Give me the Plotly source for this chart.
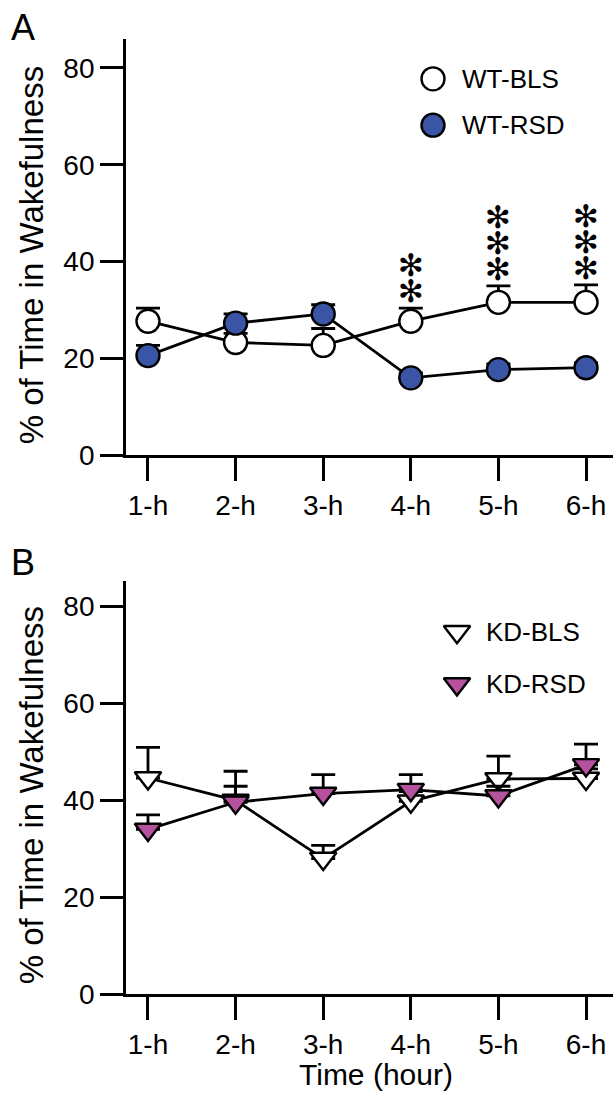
import plotly.graph_objects as go

W, H = 613, 1109

hours = ["1-h", "2-h", "3-h", "4-h", "5-h", "6-h"]
wt_bls = [27.7, 23.3, 22.7, 27.7, 31.6, 31.6]
wt_bls_err = [2.7, 1.9, 3.5, 2.7, 3.4, 3.6]
wt_rsd = [20.6, 27.3, 29.2, 16.0, 17.7, 18.1]
wt_rsd_err = [2.1, 1.9, 1.9, 1.0, 1.2, 1.0]
kd_bls = [44.6, 40.0, 28.0, 39.8, 44.4, 44.5]
kd_bls_err = [6.3, 6.0, 2.7, 2.0, 4.7, 2.0]
kd_rsd = [34.0, 39.6, 41.4, 42.2, 40.9, 47.3]
kd_rsd_err = [3.0, 3.3, 3.9, 3.1, 2.0, 4.3]
star_counts = [0, 0, 0, 2, 3, 3]
yticks = [0, 20, 40, 60, 80]

FONT = "Liberation Sans, Arial, sans-serif"
BLUE = "#3A55A5"
MAGENTA = "#B5519D"


def px_x(p):
    return p / W


def px_y(p):
    return 1 - p / H


fig = go.Figure()


def add_series(vals, errs, symbol, fill, xa, ya, size):
    fig.add_trace(go.Scatter(
        x=hours, y=vals, mode="lines+markers", xaxis=xa, yaxis=ya,
        line=dict(color="black", width=2.8),
        marker=dict(symbol=symbol, size=size, color=fill,
                    line=dict(color="black", width=2.4)),
        error_y=dict(type="data", array=errs, arrayminus=[0] * len(errs),
                     symmetric=False, color="black", thickness=2.8, width=12),
        showlegend=False, cliponaxis=False,
    ))


add_series(wt_bls, wt_bls_err, "circle", "white", "x", "y", 23)
add_series(wt_rsd, wt_rsd_err, "circle", BLUE, "x", "y", 23)
add_series(kd_bls, kd_bls_err, "triangle-down", "white", "x2", "y2", 23)
add_series(kd_rsd, kd_rsd_err, "triangle-down", MAGENTA, "x2", "y2", 23)

annotations = []
# significance stars above WT-BLS error bars
for i, n in enumerate(star_counts):
    top = wt_bls[i] + wt_bls_err[i]
    for k in range(n):
        annotations.append(dict(
            x=hours[i], y=top + 4.6 + 5.3 * k, xref="x", yref="y",
            text="\u273b", showarrow=False, yshift=-5,
            font=dict(family="DejaVu Sans", size=31, color="black")))

# legends (overlay pixel axes)
leg_marks = [
    ("WT-BLS", "circle", "white", 433, 80, 23),
    ("WT-RSD", "circle", BLUE, 433, 127, 23),
    ("KD-BLS", "triangle-down", "white", 457, 641, 23),
    ("KD-RSD", "triangle-down", MAGENTA, 457, 694, 23),
]
for name, sym, col, lx, ly, sz in leg_marks:
    fig.add_trace(go.Scatter(
        x=[lx], y=[ly], mode="markers", xaxis="x3", yaxis="y3",
        marker=dict(symbol=sym, size=sz, color=col,
                    line=dict(color="black", width=2.4)),
        showlegend=False, cliponaxis=False))
    annotations.append(dict(
        x=lx + 27, y=ly, xref="x3", yref="y3", text=name, showarrow=False,
        xanchor="left", yanchor="middle",
        font=dict(family=FONT, size=26, color="black")))

# titles and panel letters
for yc in (259, 807):
    annotations.append(dict(
        x=px_x(31), y=px_y(yc), xref="paper", yref="paper",
        text="% of Time in Wakefulness", textangle=-90, showarrow=False,
        xanchor="center", yanchor="middle",
        font=dict(family=FONT, size=33, color="black")))
annotations.append(dict(
    x=px_x(376), y=px_y(1090), xref="paper", yref="paper",
    text="Time (hour)", showarrow=False, xanchor="center", yanchor="middle",
    font=dict(family=FONT, size=30, color="black")))
for letter, yc in (("A", 28), ("B", 571)):
    annotations.append(dict(
        x=px_x(23), y=px_y(yc), xref="paper", yref="paper",
        text=letter, showarrow=False, xanchor="center", yanchor="middle",
        font=dict(family=FONT, size=36, color="black")))

xdom = [px_x(126), 1]
xrange_ = [-0.251, 5.308]
axis_common = dict(showgrid=False, zeroline=False, showline=True,
                   linecolor="black", linewidth=2.8, ticks="outside",
                   ticklen=23, tickwidth=2.8, tickcolor="black",
                   tickfont=dict(family=FONT, size=28, color="black"))

fig.update_layout(
    width=W, height=H, margin=dict(l=0, r=0, t=0, b=0),
    paper_bgcolor="white", plot_bgcolor="rgba(0,0,0,0)",
    xaxis=dict(domain=xdom, anchor="y", type="category", range=xrange_,
               **axis_common),
    yaxis=dict(domain=[px_y(462), px_y(40)], anchor="x",
               range=[0, 85.9], tickvals=yticks, **axis_common),
    xaxis2=dict(domain=xdom, anchor="y2", type="category", range=xrange_,
                **axis_common),
    yaxis2=dict(domain=[px_y(1009), px_y(590)], anchor="x2",
                range=[0, 85.1], tickvals=yticks, **axis_common),
    xaxis3=dict(domain=[0, 1], anchor="y3", range=[0, W], visible=False),
    yaxis3=dict(domain=[0, 1], anchor="x3", range=[H, 0], visible=False),
    annotations=annotations,
)

fig.write_html("out.html")
